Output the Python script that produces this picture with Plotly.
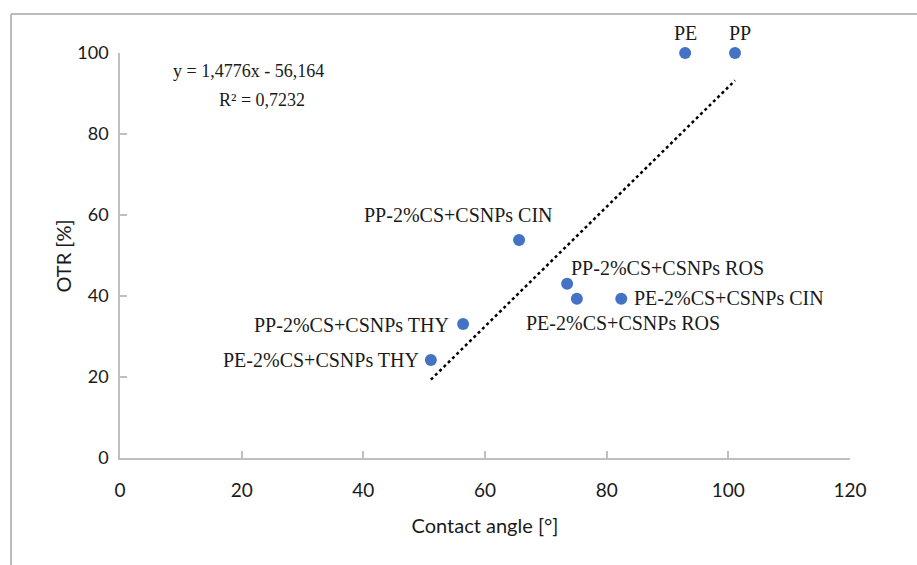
import plotly.graph_objects as go

# ---- data ----
labels = ["PE", "PP", "PP-2%CS+CSNPs CIN", "PP-2%CS+CSNPs ROS", "PE-2%CS+CSNPs ROS",
          "PE-2%CS+CSNPs CIN", "PP-2%CS+CSNPs THY", "PE-2%CS+CSNPs THY"]
contact_angle = [92.9, 101.1, 65.6, 73.5, 75.1, 82.4, 56.4, 51.1]
otr = [100, 100, 53.8, 43.0, 39.3, 39.3, 33.1, 24.2]
slope = 1.4776
intercept = -56.164
equation_text = "y = 1,4776x - 56,164"
r2_text = "R² = 0,7232"
x_ticks = [0, 20, 40, 60, 80, 100, 120]
y_ticks = [0, 20, 40, 60, 80, 100]

# label placement (pixel offsets relative to each point)
label_style = [
    dict(xanchor="center", yanchor="middle", xshift=0, yshift=20),
    dict(xanchor="center", yanchor="middle", xshift=5, yshift=20),
    dict(xanchor="right", yanchor="middle", xshift=36, yshift=25),
    dict(xanchor="left", yanchor="middle", xshift=2, yshift=16),
    dict(xanchor="center", yanchor="middle", xshift=46, yshift=-24),
    dict(xanchor="left", yanchor="middle", xshift=11, yshift=1),
    dict(xanchor="right", yanchor="middle", xshift=-12, yshift=-1),
    dict(xanchor="right", yanchor="middle", xshift=-10, yshift=0),
]

SERIF = "Liberation Serif"
SANS = "Lato"
AXIS_COL = "#bfbfbf"
TXT = "#1a1a1a"

fig = go.Figure()

# trendline
x0, x1 = min(contact_angle), max(contact_angle)
fig.add_trace(go.Scatter(
    x=[x0, x1], y=[slope * x0 + intercept, slope * x1 + intercept],
    mode="lines", line=dict(color="black", width=2.5, dash="dot"),
    hoverinfo="skip", showlegend=False, cliponaxis=False))

# points
fig.add_trace(go.Scatter(
    x=contact_angle, y=otr, mode="markers",
    marker=dict(color="#4472C4", size=12, line=dict(width=0)),
    text=labels, showlegend=False, cliponaxis=False))

annotations = []
for lab, xv, yv, st in zip(labels, contact_angle, otr, label_style):
    annotations.append(dict(x=xv, y=yv, xref="x", yref="y", text=lab, showarrow=False,
                            font=dict(family=SERIF, size=20, color=TXT), **st))

annotations.append(dict(x=21.2, y=95.5, xref="x", yref="y", text=equation_text, showarrow=False,
                        xanchor="center", yanchor="middle",
                        font=dict(family=SERIF, size=18, color=TXT)))
annotations.append(dict(x=23.3, y=88.3, xref="x", yref="y", text=r2_text, showarrow=False,
                        xanchor="center", yanchor="middle",
                        font=dict(family=SERIF, size=18, color=TXT)))
# y-axis title
annotations.append(dict(x=-58 / 730, y=0.5, xref="paper", yref="paper", text="OTR [%]",
                        showarrow=False, textangle=-90, xanchor="center", yanchor="middle",
                        font=dict(family=SANS, size=20, color=TXT)))

fig.update_layout(
    width=917, height=565,
    margin=dict(l=120, r=67, t=53, b=107),
    paper_bgcolor="white", plot_bgcolor="white",
    annotations=annotations,
    shapes=[
        dict(type="line", xref="paper", yref="paper",
             x0=-109 / 730, x1=1.2, y0=1 + 39 / 405, y1=1 + 39 / 405,
             line=dict(color="#a6a6a6", width=1.5)),
        dict(type="line", xref="paper", yref="paper",
             x0=-109 / 730, x1=-109 / 730, y0=-0.3, y1=1 + 39 / 405,
             line=dict(color="#a6a6a6", width=1.5)),
    ],
)

fig.update_xaxes(
    range=[0, 120], tickvals=x_ticks, ticktext=[str(v) for v in x_ticks],
    showgrid=False, zeroline=False, showline=True, linecolor=AXIS_COL, linewidth=1.5,
    ticks="inside", ticklen=7, tickcolor=AXIS_COL, tickwidth=1.5,
    ticklabelstandoff=14,
    tickfont=dict(family=SANS, size=19, color=TXT),
    title=dict(text="Contact angle [°]", font=dict(family=SANS, size=20, color=TXT), standoff=19),
)
fig.update_yaxes(
    range=[0, 100], tickvals=y_ticks, ticktext=[str(v) for v in y_ticks],
    showgrid=False, zeroline=False, showline=True, linecolor=AXIS_COL, linewidth=1.5,
    ticks="inside", ticklen=7, tickcolor=AXIS_COL, tickwidth=1.5,
    ticklabelstandoff=6,
    tickfont=dict(family=SANS, size=18, color=TXT),
)

fig.write_html("out.html")
